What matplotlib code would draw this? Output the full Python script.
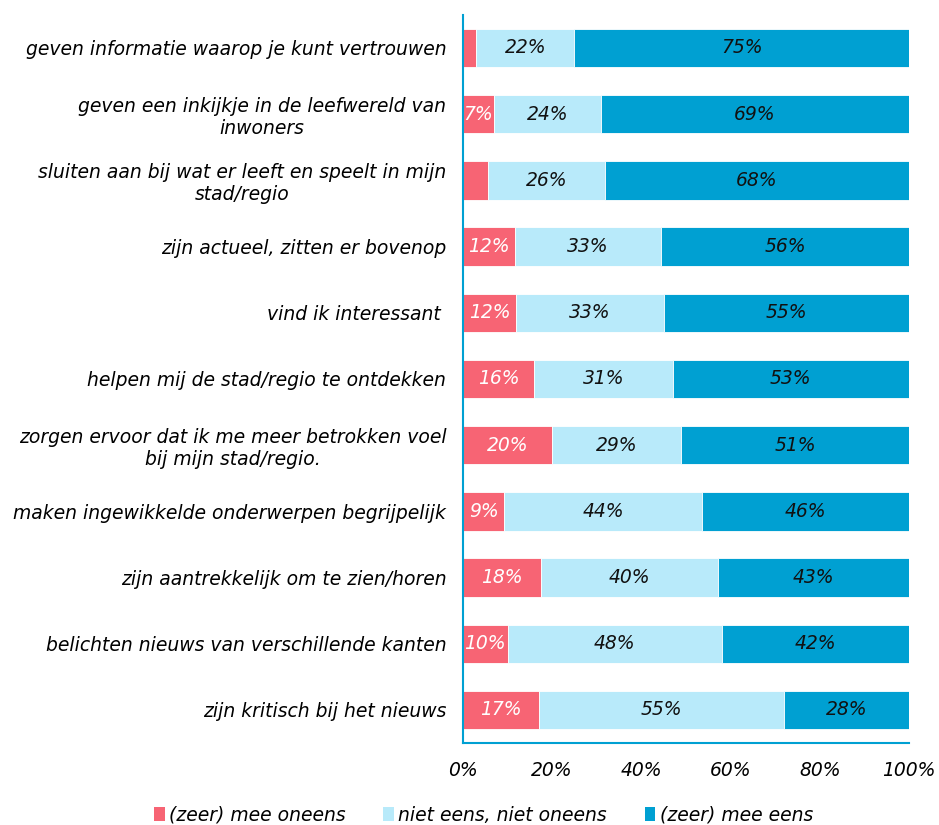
import matplotlib
matplotlib.use("Agg")
import matplotlib.pyplot as plt
from matplotlib.patches import Patch

categories = [
    "geven informatie waarop je kunt vertrouwen",
    "geven een inkijkje in de leefwereld van\ninwoners",
    "sluiten aan bij wat er leeft en speelt in mijn\nstad/regio",
    "zijn actueel, zitten er bovenop",
    "vind ik interessant ",
    "helpen mij de stad/regio te ontdekken",
    "zorgen ervoor dat ik me meer betrokken voel\nbij mijn stad/regio.",
    "maken ingewikkelde onderwerpen begrijpelijk",
    "zijn aantrekkelijk om te zien/horen",
    "belichten nieuws van verschillende kanten",
    "zijn kritisch bij het nieuws",
]
oneens = [3.0, 7.0, 5.6, 11.6, 12.0, 16.0, 20.0, 9.3, 17.6, 10.0, 17.0]
neutraal = [22.0, 24.0, 26.2, 32.8, 33.0, 31.0, 29.0, 44.4, 39.6, 48.0, 55.0]
eens = [75.0, 69.0, 68.2, 55.6, 55.0, 53.0, 51.0, 46.3, 42.8, 42.0, 28.0]
series_names = ["(zeer) mee oneens", "niet eens, niet oneens", "(zeer) mee eens"]
colors = ["#F76474", "#B8EAFA", "#00A0D2"]
label_colors = ["white", "#111111", "#111111"]
min_label = [6.5, 0, 0]

FS = 13.5
plt.rcParams['font.family'] = ['DejaVu Sans']
fig = plt.figure(figsize=(9.39, 8.25), dpi=100)
ax = fig.add_axes([0.493, 0.0994, 0.475, 0.8826])

y = list(range(len(categories)))
left = [0] * len(categories)
for vals, col, lc, mn in zip([oneens, neutraal, eens], colors, label_colors, min_label):
    ax.barh(y, vals, left=left, height=0.58, color=col, edgecolor="white", linewidth=0.6)
    for yi, l, v in zip(y, left, vals):
        if v > mn:
            ax.text(l + v / 2, yi, f"{round(v):d}%", ha="center", va="center", color=lc,
                    fontsize=FS, style="italic")
    left = [a + b for a, b in zip(left, vals)]

ax.set_xlim(0, 100)
ax.set_ylim(10.5, -0.5)
ax.set_yticks(y)
ax.set_yticklabels(categories, fontsize=FS, style="italic", ha="right", multialignment="center")
ax.set_xticks([0, 20, 40, 60, 80, 100])
ax.set_xticklabels(["0%", "20%", "40%", "60%", "80%", "100%"], fontsize=FS, style="italic")
ax.tick_params(axis="y", length=0, pad=12)
ax.tick_params(axis="x", length=0, pad=13)
for s in ["top", "right"]:
    ax.spines[s].set_visible(False)
for s in ["left", "bottom"]:
    ax.spines[s].set_color("#00A0D2")
    ax.spines[s].set_linewidth(1.5)

handles = [Patch(facecolor=c, label=n) for c, n in zip(colors, series_names)]
fig.legend(handles=handles, loc="center", bbox_to_anchor=(0.515, 0.012), ncol=3, frameon=False,
           prop={"size": FS, "style": "italic"}, handlelength=0.55, handleheight=0.7,
           handletextpad=0.25, columnspacing=2.0)

fig.savefig("out.png", dpi=100)
